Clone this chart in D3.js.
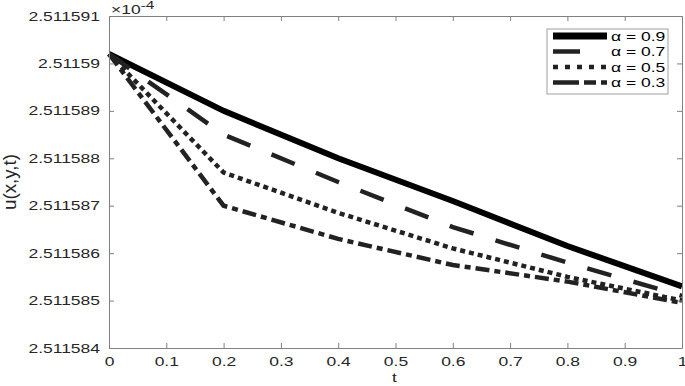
<!DOCTYPE html>
<html>
<head>
<meta charset="utf-8">
<script src="https://cdn.jsdelivr.net/npm/d3@7"></script>
<style>
  body { margin: 0; background: #fff; }
  svg { display: block; font-family: "Liberation Sans", Arial, sans-serif; }
</style>
</head>
<body>
<div id="chart"></div>
<script>
// data (values in units of 1e-4)
const tValues = [0, 0.2, 0.4, 0.6, 0.8, 1];
const alpha09 = [2.5115902, 2.5115890, 2.5115880, 2.5115871, 2.51158615, 2.5115853];
const alpha07 = [2.5115902, 2.5115885, 2.5115875, 2.51158655, 2.5115858, 2.5115851];
const alpha05 = [2.5115902, 2.5115877, 2.51158685, 2.5115861, 2.5115855, 2.5115850];
const alpha03 = [2.5115902, 2.5115870, 2.5115863, 2.51158575, 2.5115854, 2.51158495];
const seriesLabels = ["α = 0.9", "α = 0.7", "α = 0.5", "α = 0.3"];
const xTicks = [0, 0.1, 0.2, 0.3, 0.4, 0.5, 0.6, 0.7, 0.8, 0.9, 1];
const yTicks = [2.511584, 2.511585, 2.511586, 2.511587, 2.511588, 2.511589, 2.51159, 2.511591];

const W = 685, H = 386;
const margin = { top: 16, right: 3, bottom: 38, left: 109 };
const width = W - margin.left - margin.right;
const height = H - margin.top - margin.bottom;
const SX = 1.4; // text in the picture is stretched horizontally
const fs = 12.5;

const styles = [
    { values: alpha09, width: 6, dash: null, legendDash: null, color: "#000" },
    { values: alpha07, width: 4.5, dash: "25,23", legendDash: "27,40", color: "#222" },
    { values: alpha05, width: 4.5, dash: "5,4", legendDash: "5,7", color: "#222" },
    { values: alpha03, width: 4.5, dash: "14,5,6,5", legendDash: "26,5,12,5", color: "#222" }
];

const svg = d3.select("#chart").append("svg")
    .attr("width", W)
    .attr("height", H);

const g = svg.append("g")
    .attr("transform", `translate(${margin.left},${margin.top})`);

const x = d3.scaleLinear().domain([0, 1]).range([0, width]);
const y = d3.scaleLinear().domain([2.511584, 2.511591]).range([height, 0]);

const fmtX = d => String(+d.toFixed(1));
const fmtY = d => String(+d.toFixed(6));

// lines
const line = d3.line()
    .x((d, i) => x(tValues[i]))
    .y(d => y(d));

styles.forEach(s => {
    g.append("path")
        .attr("d", line(s.values))
        .attr("fill", "none")
        .attr("stroke", s.color)
        .attr("stroke-width", s.width)
        .attr("stroke-dasharray", s.dash)
        .attr("stroke-linejoin", "miter");
});

// axes, ticks inward on all four sides
function styleAxis(sel) {
    sel.select(".domain").attr("stroke", "#808080").attr("stroke-width", 1);
    sel.selectAll(".tick line").attr("stroke", "#808080");
    sel.selectAll(".tick text").attr("fill", "#262626").style("font-size", fs + "px");
}

const xAxis = g.append("g")
    .attr("transform", `translate(0,${height})`)
    .call(d3.axisBottom(x).tickValues(xTicks).tickFormat(fmtX).tickSize(-5).tickSizeOuter(0))
    .call(styleAxis);
xAxis.selectAll(".tick text")
    .attr("y", 9)
    .attr("transform", `scale(${SX},1)`);

const yAxis = g.append("g")
    .call(d3.axisLeft(y).tickValues(yTicks).tickFormat(fmtY).tickSize(-5).tickSizeOuter(0))
    .call(styleAxis);
yAxis.selectAll(".tick text")
    .attr("x", -9 / SX)
    .attr("transform", `scale(${SX},1)`);

g.append("g")
    .call(d3.axisTop(x).tickValues(xTicks).tickFormat("").tickSize(-5).tickSizeOuter(0))
    .call(styleAxis);

g.append("g")
    .attr("transform", `translate(${width},0)`)
    .call(d3.axisRight(y).tickValues(yTicks).tickFormat("").tickSize(-5).tickSizeOuter(0))
    .call(styleAxis);

// exponent label
const expo = svg.append("text")
    .attr("transform", `translate(${margin.left + 2},14) scale(${SX},1)`)
    .attr("fill", "#262626")
    .style("font-size", fs + "px");
expo.append("tspan").text("×10");
expo.append("tspan").attr("dy", -5).style("font-size", "11px").text("-4");

// axis labels
svg.append("text")
    .attr("transform", `translate(${margin.left + width / 2 - 1},${H - 4}) scale(${SX},1)`)
    .attr("text-anchor", "middle")
    .attr("fill", "#262626")
    .style("font-size", fs + "px")
    .text("t");

svg.append("text")
    .attr("transform", `translate(16,${margin.top + height / 2}) rotate(-90) scale(1.5,${SX})`)
    .attr("text-anchor", "middle")
    .attr("fill", "#262626")
    .style("font-size", fs + "px")
    .text("u(x,y,t)");

// legend
const legend = svg.append("g").attr("transform", "translate(547,29)");
legend.append("rect")
    .attr("width", 121)
    .attr("height", 65)
    .attr("fill", "#fff")
    .attr("stroke", "#a0a0a0")
    .attr("stroke-width", 1);

seriesLabels.forEach((label, i) => {
    const s = styles[i];
    const ly = 7 + i * 15.5;
    legend.append("line")
        .attr("x1", 6).attr("x2", 60)
        .attr("y1", ly).attr("y2", ly)
        .attr("stroke", s.color)
        .attr("stroke-width", i === 0 ? 7 : 4.5)
        .attr("stroke-dasharray", s.legendDash);
    legend.append("text")
        .attr("transform", `translate(64,${ly + 4.5}) scale(${SX},1)`)
        .attr("fill", "#000")
        .style("font-size", fs + "px")
        .text(label);
});
</script>
</body>
</html>
